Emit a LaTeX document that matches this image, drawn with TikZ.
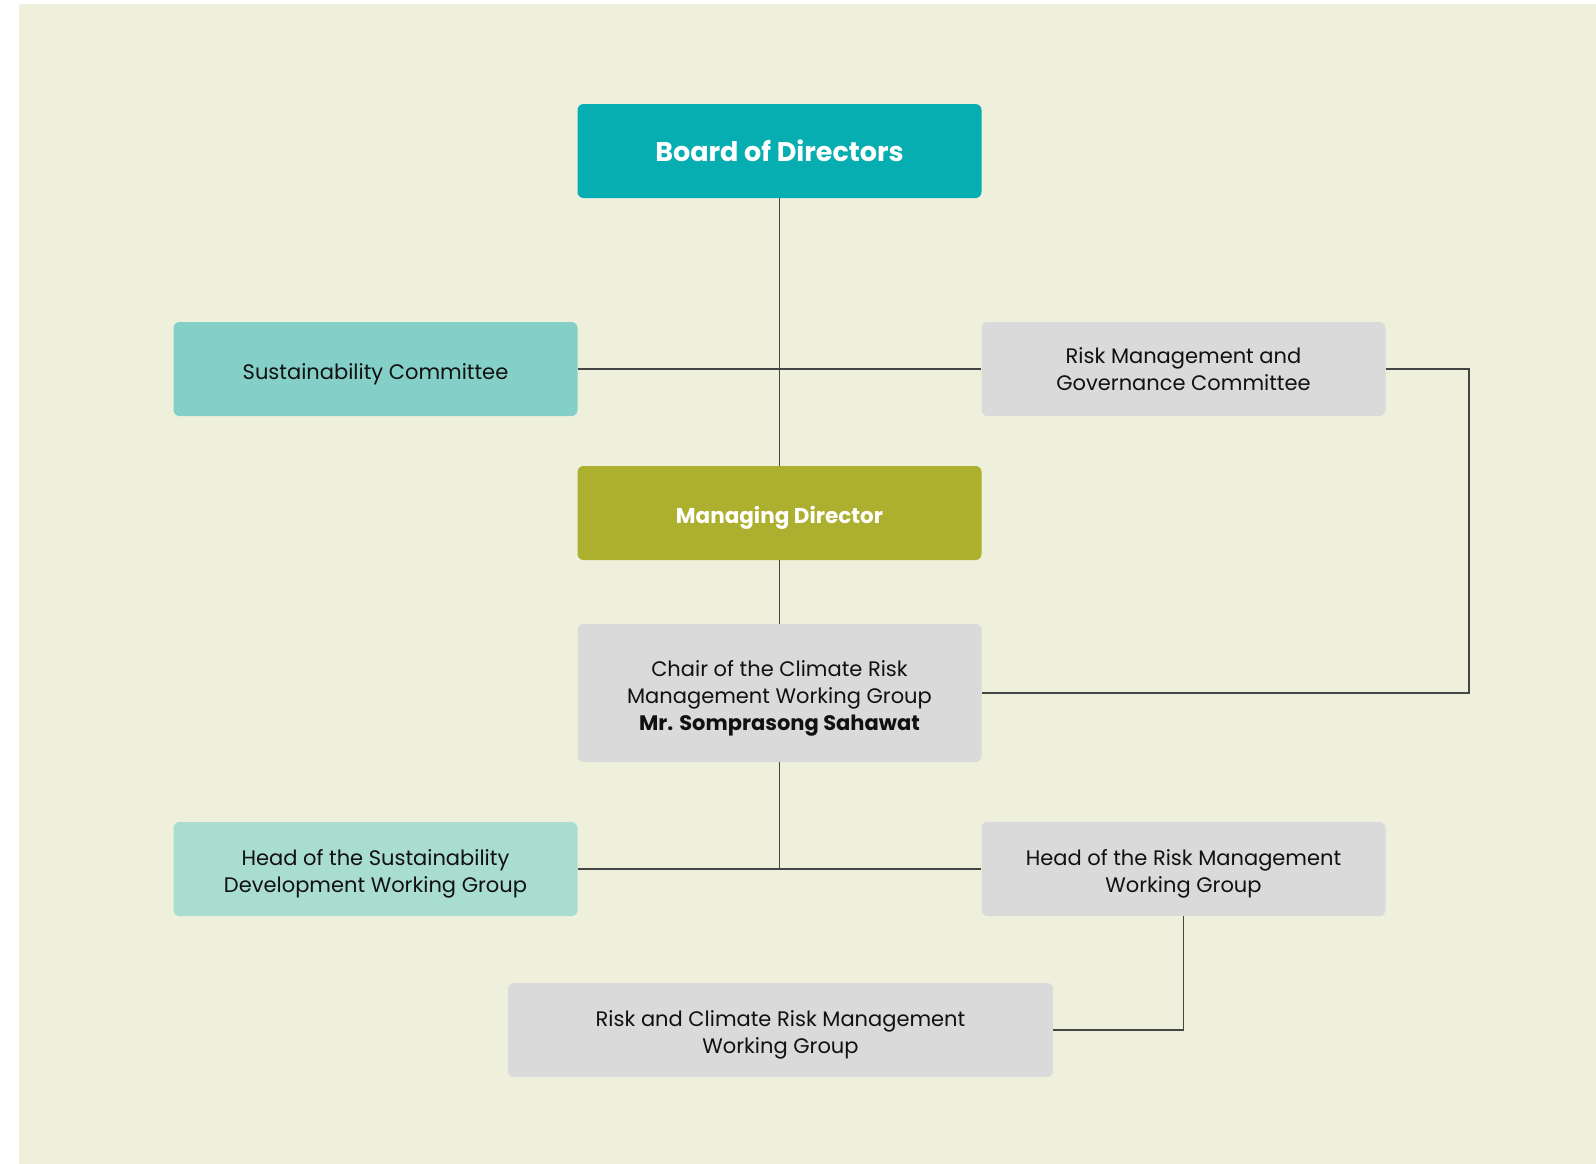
\documentclass[tikz,border=0pt]{standalone}
\usepackage{fontspec}
\setmainfont{Poppins}
\usepackage{tikz}
\definecolor{ChartBack}{HTML}{EFF0DB}
\definecolor{ChartTeal}{HTML}{06AEB2}
\definecolor{ChartMint}{HTML}{84CFC8}
\definecolor{ChartPale}{HTML}{A9DDCF}
\definecolor{ChartGrey}{HTML}{DADADA}
\definecolor{ChartOlive}{HTML}{ADAF2E}
\definecolor{ChartLine}{HTML}{454545}
\definecolor{ChartInk}{HTML}{111111}
\newcommand{\upst}{\rule{0pt}{26pt}}
\newcommand{\dnst}{\rule[-6pt]{0pt}{6pt}}

\begin{document}
\begin{tikzpicture}[x=1pt,y=-1pt,
    box/.style={rounded corners=6pt,minimum width=404pt,minimum height=94pt,
      align=center,inner sep=0pt,text=ChartInk,font=\fontsize{21}{27}\selectfont},
    link/.style={ChartLine,line width=1.2pt}]
      \useasboundingbox (0,0) rectangle (1596,1164);
      \fill[ChartBack] (19,4) rectangle (1596,1164);
      % boxes
      \node[box,fill=ChartTeal,text=white,font=\fontsize{27}{30}\bfseries\selectfont] (board) at (779.5,151) {Board of Directors};
      \node[box,fill=ChartMint] (sustcom) at (375.5,369) {\upst Sustainability Committee\dnst};
      \node[box,fill=ChartGrey] (riskcom) at (1183.5,369) {Risk Management and\\Governance Committee};
      \node[box,fill=ChartOlive,text=white,font=\fontsize{21.5}{24}\bfseries\selectfont] (md) at (779.5,513) {\upst Managing Director\dnst};
      \node[box,fill=ChartGrey,minimum height=138pt] (chair) at (779.5,693) {\upst Chair of the Climate Risk\\Management Working Group\\\textbf{Mr. Somprasong Sahawat}\dnst};
      \node[box,fill=ChartPale] (sustwg) at (375.5,869) {\upst Head of the Sustainability\\Development Working Group\dnst};
      \node[box,fill=ChartGrey] (riskwg) at (1183.5,869) {\upst Head of the Risk Management\\Working Group\dnst};
      \node[box,fill=ChartGrey,minimum width=545pt] (climwg) at (780.5,1030) {\upst Risk and Climate Risk Management\\Working Group\dnst};
      % lines
      \coordinate (loop) at (1469,369);
      \draw[link] (board.south) -- (md.north);
      \draw[link] (sustcom.east) -- (riskcom.west);
      \draw[link] (md.south) -- (chair.north);
      \draw[link] (chair.south) -- (chair.south |- sustwg.east);
      \draw[link] (sustwg.east) -- (riskwg.west);
      \draw[link] (riskcom.east) -- (loop) |- (chair.east);
      \draw[link] (riskwg.south) |- (climwg.east);
    \end{tikzpicture}
\end{document}
